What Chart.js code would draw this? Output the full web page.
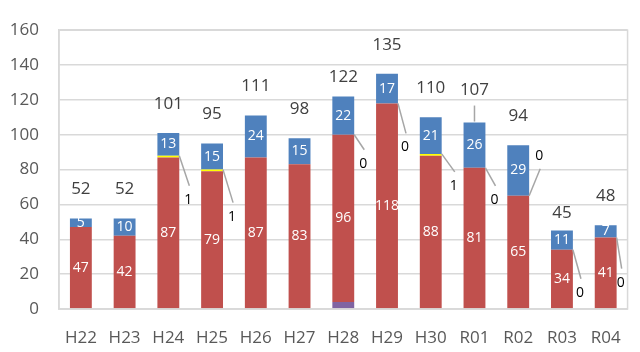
<!DOCTYPE html>
<html>
<head>
<meta charset="utf-8">
<script src="https://cdn.jsdelivr.net/npm/chart.js@4"></script>
<style>
    html, body { margin: 0; padding: 0; background: #fff; }
    #wrap { width: 640px; height: 352px; }
</style>
</head>
<body>
<div id="wrap"><canvas id="chart"></canvas></div>
<script>
/* ── Données ─────────────────────────────────────────────── */
const categories = ['H22', 'H23', 'H24', 'H25', 'H26', 'H27', 'H28', 'H29', 'H30', 'R01', 'R02', 'R03', 'R04'];
const purpleValues = [null, null, null, null, null, null, 4, null, null, null, null, null, null];
const redValues = [47, 42, 87, 79, 87, 83, 96, 118, 88, 81, 65, 34, 41];
const yellowValues = [null, null, 1, 1, null, null, 0, 0, 1, 0, 0, 0, 0];
const blueValues = [5, 10, 13, 15, 24, 15, 22, 17, 21, 26, 29, 11, 7];

/* ── Placement des étiquettes (px, relatifs aux barres) ─── */
const YELLOW_LABEL_OFFSET = [null, null, [20, 44], [20, 47], null, null, [20, 29], [18, 44], [23, 32], [20, 32], [21, -40], [18, 43], [15, 45]];
const TOTAL_LIFT = [29, 29, 29, 29, 29, 29, 19, 29, 29, 32, 29, 17, 29];
const TOTAL_LEADER = [false, false, false, false, false, false, false, false, false, true, false, false, false];

const COLORS = {
    purple: '#8064A2',
    red: '#C0504D',
    yellow: '#FFFF00',
    blue: '#4F81BD',
    grid: '#D9D9D9',
    tick: '#595959',
    total: '#404040',
    leader: '#A6A6A6',
};
const FONT = '"Open Sans", "Noto Sans", sans-serif';

const totals = categories.map((_, i) =>
    [purpleValues, redValues, yellowValues, blueValues].reduce((s, arr) => s + (arr[i] ?? 0), 0));

/* ── Plugin : étiquettes et cadre ───────────────────────── */
const labelsPlugin = {
    id: 'labels',
    afterDatasetsDraw(chart) {
        const { ctx, chartArea } = chart;
        const meta = k => chart.getDatasetMeta(k).data;
        const red = meta(1), yellow = meta(2), blue = meta(3);

        ctx.save();
        // cadre de la zone de tracé
        ctx.strokeStyle = COLORS.grid;
        ctx.lineWidth = 1.5;
        ctx.strokeRect(chartArea.left, chartArea.top, chartArea.right - chartArea.left, chartArea.bottom - chartArea.top);

        ctx.textAlign = 'center';
        ctx.textBaseline = 'middle';

        categories.forEach((_, i) => {
            // valeurs internes (blanc)
            ctx.font = `14px ${FONT}`;
            ctx.fillStyle = '#fff';
            [[red[i], redValues[i]], [blue[i], blueValues[i]]].forEach(([bar, v]) => {
                if (v == null) return;
                ctx.fillText(String(v), bar.x, (bar.y + bar.base) / 2);
            });

            // valeurs jaunes avec ligne de repère
            const off = YELLOW_LABEL_OFFSET[i];
            if (yellowValues[i] != null && off) {
                const bar = yellow[i];
                const sx = bar.x + bar.width / 2;
                const sy = bar.y;
                const lx = bar.x + off[0];
                const ly = sy + off[1];
                ctx.strokeStyle = COLORS.leader;
                ctx.lineWidth = 1.5;
                ctx.beginPath();
                ctx.moveTo(sx, sy);
                ctx.lineTo(lx + 1, off[1] > 0 ? ly - 14 : ly + 13);
                ctx.stroke();
                ctx.fillStyle = '#000';
                ctx.fillText(String(yellowValues[i]), lx, ly);
            }

            // totaux
            const top = blue[i].y;
            const ty = top - TOTAL_LIFT[i];
            ctx.font = `17px ${FONT}`;
            ctx.fillStyle = COLORS.total;
            ctx.fillText(String(totals[i]), blue[i].x, ty);
            if (TOTAL_LEADER[i]) {
                ctx.strokeStyle = COLORS.leader;
                ctx.lineWidth = 1.5;
                ctx.beginPath();
                ctx.moveTo(blue[i].x, ty + 15);
                ctx.lineTo(blue[i].x, top - 1);
                ctx.stroke();
            }
        });
        ctx.restore();
    },
};

const makeDataset = (data, color) => ({
    data,
    backgroundColor: color,
    borderWidth: 0,
    barPercentage: 0.5,
    categoryPercentage: 1,
});

new Chart(document.getElementById('chart'), {
    type: 'bar',
    data: {
        labels: categories,
        datasets: [
            makeDataset(purpleValues, COLORS.purple),
            makeDataset(redValues, COLORS.red),
            makeDataset(yellowValues, COLORS.yellow),
            makeDataset(blueValues, COLORS.blue),
        ],
    },
    options: {
        responsive: true,
        maintainAspectRatio: false,
        animation: false,
        layout: { padding: { top: 17, right: 9, left: 0, bottom: 0 } },
        plugins: { legend: { display: false }, tooltip: { enabled: false } },
        scales: {
            x: {
                stacked: true,
                grid: { display: false, drawTicks: false },
                border: { color: COLORS.grid, width: 1.5 },
                ticks: { color: COLORS.tick, font: { family: FONT, size: 17 }, padding: 19, maxRotation: 0 },
                afterFit: s => { s.height = 43; },
            },
            y: {
                stacked: true,
                min: 0,
                max: 160,
                grid: { color: COLORS.grid, lineWidth: 1.5, drawTicks: false },
                border: { color: COLORS.grid, width: 1.5 },
                ticks: { stepSize: 20, color: COLORS.tick, font: { family: FONT, size: 17 }, padding: 20 },
                afterFit: s => { s.width = 59; },
            },
        },
    },
    plugins: [labelsPlugin],
});
</script>
</body>
</html>
